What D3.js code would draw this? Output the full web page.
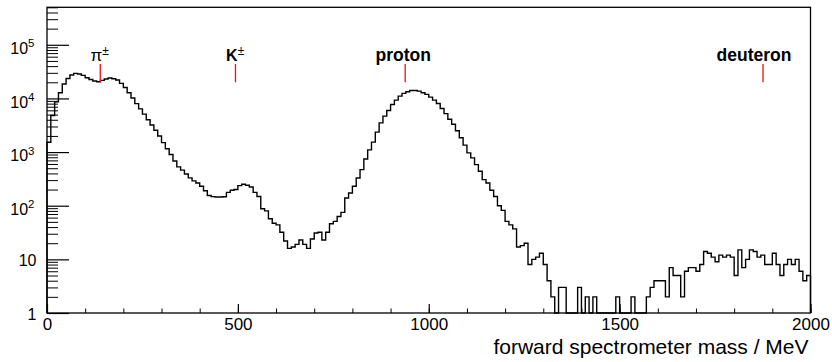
<!DOCTYPE html>
<html lang="en">
<head>
  <meta charset="UTF-8">
  <title>forward spectrometer mass</title>
  <script src="https://d3js.org/d3.v7.min.js"></script>
</head>
<style>
  body{
    margin:0;
    background:white;
  }
  svg text{
    font-family: "Liberation Sans", Arial, Helvetica, sans-serif;
    fill: black;
  }
</style>
<body>
  <div id="svg_area"></div>
</body>
<script>
// histogram setup: 200 bins of 10 MeV from 0 to 2000
var binLow = 0;
var binWidth = 10;

// bin contents (entries per 10 MeV bin)
var counts = [
  1520, 4800, 8700, 12800, 18600, 23600, 27300, 29300, 28500, 26900,   // 0-100
  24300, 22600, 21100, 20500, 21700, 23000, 24000, 23300, 22000, 19100, // 100-200
  16000, 12800, 10200, 8000, 6400, 5100, 4000, 3200, 2550, 2000,      // 200-300
  1500, 1150, 900, 680, 530, 460, 390, 330, 290, 265,                 // 300-400
  230, 190, 155, 148, 145, 145, 147, 177, 194, 200,                   // 400-500
  237, 251, 240, 223, 177, 149, 88, 80, 57, 47,                       // 500-600
  44, 32, 22, 16, 17, 19, 23, 19, 16, 24,                             // 600-700
  31, 32, 23, 32, 46, 51, 63, 75, 139, 173,                           // 700-800
  230, 329, 470, 745, 1100, 1530, 2350, 3510, 4680, 5970,             // 800-900
  7730, 9310, 11060, 12400, 13320, 14100, 14100, 13700, 12760, 11880, // 900-1000
  10590, 9310, 8070, 6500, 5200, 4100, 3300, 2500, 1850, 1350,        // 1000-1100
  965, 778, 584, 438, 306, 265, 194, 149, 100, 82,                    // 1100-1200
  51, 44, 37, 17, 18, 20, 8, 10, 11, 13,                              // 1200-1300
  8, 4, 2, 0, 3, 3, 0, 0, 0, 3,                                       // 1300-1400
  0, 2, 0, 2, 0, 0, 0, 0, 0, 2,                                       // 1400-1500
  0, 0, 0, 2, 0, 0, 0, 2, 3, 4,                                       // 1500-1600
  4, 4, 2, 7, 5, 5, 2, 6, 7, 7,                                       // 1600-1700
  6, 8, 14, 13, 11, 9, 12, 11, 12, 11,                                // 1700-1800
  5, 15, 7, 10, 15, 14, 11, 12, 8, 8,                                 // 1800-1900
  13, 8, 5, 8, 10, 8, 10, 6, 4, 5                                     // 1900-2000
];

// axis ranges and ticks
var xRange = [0, 2000];
var yRange = [1, 5e5];
var xMajorTicks = [0, 500, 1000, 1500, 2000];
var xTickLabels = ["0", "500", "1000", "1500", "2000"];
var yMajorTicks = [1, 10, 1e2, 1e3, 1e4, 1e5];
var yTickBase = ["1", "10", "10", "10", "10", "10"];
var yTickExp = ["", "", "2", "3", "4", "5"];
var xTitle = "forward spectrometer mass / MeV";

// particle mass markers (MeV) and where their labels are centred
var particleMass = [139.57, 493.68, 938.27, 1875.61];
var particleName = ["\u03c0", "K", "proton", "deuteron"];
var particleSup = ["\u00b1", "\u00b1", "", ""];
var particleBold = [false, true, true, true];
var labelCentre = [138, 493, 933, 1852];

// drawing area (note: "top" is reserved by the browser window, so use other names)
var width = 832;
var height = 362;
var marginLeft = 47;
var marginTop = 7.3;
var plotW = 763.5;
var plotH = 305.7;

var xScale = d3.scaleLinear()
  .domain(xRange)
  .range([0, plotW]);

var yScale = d3.scaleLog()
  .domain(yRange)
  .range([plotH, 0]);

var svgContainer = d3.select("#svg_area").append("svg")
  .attr("width", width)
  .attr("height", height);

var plot = svgContainer.append("g")
  .attr("transform", "translate(" + marginLeft + "," + marginTop + ")");

// step outline of the histogram; empty bins fall to the bottom of the frame
var steps = [[binLow, yRange[0]]];
counts.forEach(function(c, i){
  steps.push([binLow + i * binWidth, Math.max(c, yRange[0])]);
});
steps.push([binLow + counts.length * binWidth, Math.max(counts[counts.length - 1], yRange[0])]);
steps.push([binLow + counts.length * binWidth, yRange[0]]);

var stepLine = d3.line()
  .x(function(d){ return xScale(d[0]); })
  .y(function(d){ return yScale(d[1]); })
  .curve(d3.curveStepAfter);

plot.append("path")
  .datum(steps)
  .attr("d", stepLine)
  .attr("fill", "none")
  .attr("stroke", "black")
  .attr("stroke-width", 1.4);

// y axis: minor ticks (2..9 per decade) then major ticks with labels
var yMinorTicks = yScale.ticks().filter(function(d){
  return yMajorTicks.indexOf(d) < 0;
});
plot.append("g")
  .call(d3.axisLeft(yScale).tickValues(yMinorTicks).tickSize(-11).tickFormat(""))
  .call(function(g){ g.select(".domain").remove(); });

var yAxisG = plot.append("g")
  .call(d3.axisLeft(yScale).tickValues(yMajorTicks).tickSize(-22).tickPadding(10))
  .call(function(g){ g.select(".domain").remove(); });

yAxisG.selectAll(".tick line").attr("stroke-width", 1.2);
yAxisG.selectAll(".tick text").each(function(d, i){
  var t = d3.select(this);
  t.text(null)
    .attr("font-size", "16px")
    .attr("text-anchor", "end")
    .attr("dy", null);
  if (yTickExp[i] === "") {
    t.attr("x", -10.5).attr("y", 6);
    t.append("tspan").text(yTickBase[i]);
  } else {
    t.attr("x", -12.5).attr("y", 8.6);
    t.append("tspan").text(yTickBase[i]);
    t.append("tspan").text(yTickExp[i])
      .attr("font-size", "11.5px")
      .attr("dy", -6.6);
  }
});

// x axis: minor ticks every 100 MeV, major ticks every 500 MeV
plot.append("g")
  .attr("transform", "translate(0," + plotH + ")")
  .call(d3.axisBottom(xScale).tickValues(d3.range(xRange[0], xRange[1] + 1, 100)).tickSize(-4.5).tickFormat(""))
  .call(function(g){ g.select(".domain").remove(); });

var xAxisG = plot.append("g")
  .attr("transform", "translate(0," + plotH + ")")
  .call(d3.axisBottom(xScale).tickValues(xMajorTicks).tickSize(-9).tickPadding(5)
    .tickFormat(function(d, i){ return xTickLabels[i]; }))
  .call(function(g){ g.select(".domain").remove(); });

xAxisG.selectAll(".tick line").attr("stroke-width", 1.2);
xAxisG.selectAll(".tick text")
  .attr("font-size", "17px");

plot.selectAll(".tick line").attr("stroke", "black");

// frame round the plot
plot.append("rect")
  .attr("x", 0)
  .attr("y", 0)
  .attr("width", plotW)
  .attr("height", plotH)
  .attr("fill", "none")
  .attr("stroke", "black")
  .attr("stroke-width", 1.3);

// x axis title, right aligned at the end of the axis
svgContainer.append("text")
  .attr("x", marginLeft + plotW - 2)
  .attr("y", 354)
  .attr("text-anchor", "end")
  .attr("font-size", "21px")
  .text(xTitle);

// red markers at the particle masses
plot.selectAll(".marker")
  .data(particleMass)
  .enter()
  .append("line")
    .attr("class", "marker")
    .attr("x1", function(d){ return xScale(d); })
    .attr("x2", function(d){ return xScale(d); })
    .attr("y1", 64 - marginTop)
    .attr("y2", 82.3 - marginTop)
    .attr("stroke", "#ee1111")
    .attr("stroke-width", 1.3);

// particle names above the markers
plot.selectAll(".pname")
  .data(particleName)
  .enter()
  .append("text")
    .attr("class", "pname")
    .attr("x", function(d, i){ return xScale(labelCentre[i]); })
    .attr("y", 61 - marginTop)
    .attr("text-anchor", "middle")
    .attr("font-size", function(d, i){ return particleBold[i] ? (i === 1 ? "16px" : "17.5px") : "17px"; })
    .attr("font-weight", function(d, i){ return particleBold[i] ? "bold" : "normal"; })
    .each(function(d, i){
      var t = d3.select(this);
      t.append("tspan").text(d);
      if (particleSup[i] !== "") {
        t.append("tspan").text(particleSup[i])
          .attr("font-size", "12px")
          .attr("font-weight", "normal")
          .attr("dy", -6);
      }
    });
</script>
</html>
